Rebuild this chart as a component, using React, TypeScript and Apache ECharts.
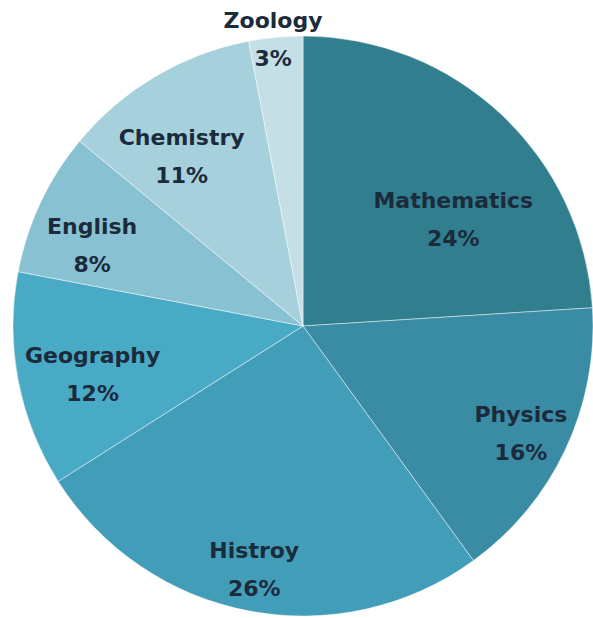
import React, { useEffect, useRef } from "react";
import * as echarts from "echarts";

const subjects = ["Mathematics", "Physics", "Histroy", "Geography", "English", "Chemistry", "Zoology"];
const percents = [24, 16, 26, 12, 8, 11, 3];
const colors = ["#317e8f", "#3a8ca4", "#429db8", "#49aac5", "#88c1d2", "#a7d0dd", "#c5dfe7"];
const labelOffsets = [[49, 1], [84, 44], [-21, 98], [-65, 21], [-77, -17], [-46, -42], [-16, -139]];

export default function App() {
  const ref = useRef<HTMLDivElement>(null);
  useEffect(() => {
    if (!ref.current) return;
    const chart = echarts.init(ref.current, null, { renderer: "svg" });
    chart.setOption({
      animation: false,
      backgroundColor: "#ffffff",
      series: [
        {
          type: "pie",
          center: [303, 326],
          radius: 290,
          startAngle: 90,
          clockwise: true,
          avoidLabelOverlap: false,
          itemStyle: { borderColor: "rgba(255,255,255,0.45)", borderWidth: 1 },
          label: {
            show: true,
            position: "inside",
            formatter: "{b}\n{c}%",
            color: "#1b2b3b",
            fontFamily: "DejaVu Sans",
            fontWeight: "bold",
            fontSize: 22,
            lineHeight: 38,
            align: "center",
          },
          labelLine: { show: false },
          emphasis: { disabled: true },
          data: subjects.map((name, i) => ({
            name,
            value: percents[i],
            itemStyle: { color: colors[i] },
            label: { offset: labelOffsets[i] },
          })),
        },
      ],
    });
    return () => chart.dispose();
  }, []);
  return (
    <div
      ref={ref}
      style={{ position: "absolute", left: 0, top: 0, width: 593, height: 618 }}
    />
  );
}
